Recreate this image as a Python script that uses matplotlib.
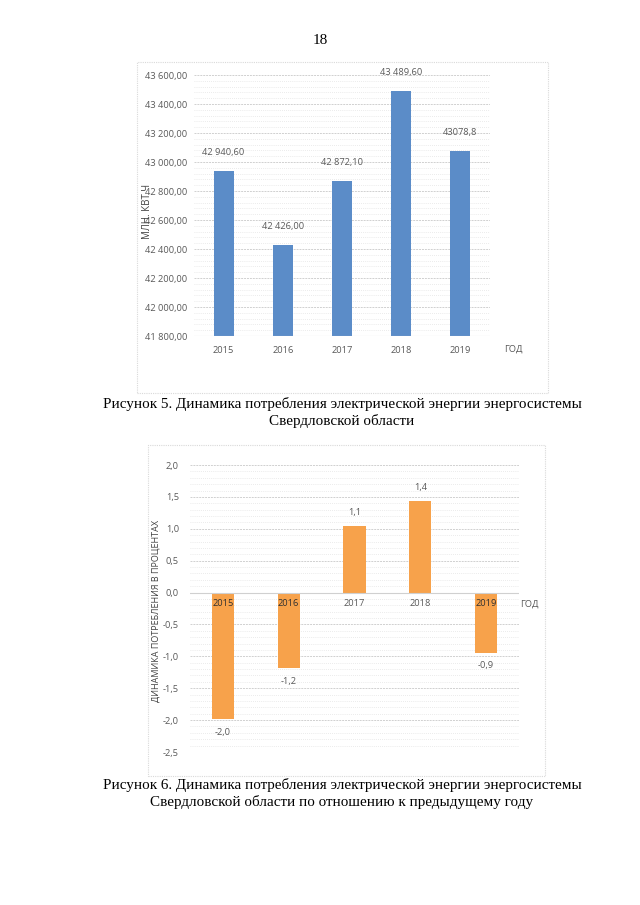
import matplotlib
matplotlib.use("Agg")
import matplotlib.pyplot as plt
from matplotlib.patches import Rectangle
from matplotlib.ticker import MultipleLocator, FuncFormatter

# ---- data ----
years = ["2015", "2016", "2017", "2018", "2019"]
consumption = [42940.6, 42426.0, 42872.1, 43489.6, 43078.8]
consumption_labels = ["42 940,60", "42 426,00", "42 872,10", "43 489,60", "43078,8"]
dynamics = [-1.99, -1.19, 1.05, 1.44, -0.94]
dynamics_labels = ["-2,0", "-1,2", "1,1", "1,4", "-0,9"]

page_text = "18"
caption5 = ["Рисунок 5. Динамика потребления электрической энергии энергосистемы",
            "Свердловской области"]
caption6 = ["Рисунок 6. Динамика потребления электрической энергии энергосистемы",
            "Свердловской области по отношению к предыдущему году"]

W, H = 640, 905
fig = plt.figure(figsize=(W / 100, H / 100), dpi=100)
fig.patch.set_facecolor("white")

SANS = ["Open Sans", "DejaVu Sans"]
SERIF = ["Liberation Serif", "DejaVu Serif"]
TXT = "#595959"
CAP = 10.9


def fx(px):
    return px / W


def fy(py):
    return 1 - py / H


def frame(x0, y0, x1, y1):
    r = Rectangle((fx(x0), fy(y1)), fx(x1 - x0), (y1 - y0) / H, transform=fig.transFigure,
                  fill=False, edgecolor="#d9d9d9", linewidth=0.8, linestyle=(0, (1, 1)))
    fig.add_artist(r)


def style_axes(ax):
    for s in ax.spines.values():
        s.set_visible(False)
    ax.tick_params(axis="both", which="both", length=0, labelsize=6.7, labelcolor=TXT)
    for lab in ax.get_yticklabels() + ax.get_xticklabels():
        lab.set_family(SANS)
    ax.grid(True, which="major", axis="y", color="#d0d0d0", linewidth=0.7, linestyle=(0, (2, 1)))
    ax.grid(True, which="minor", axis="y", color="#e4e4e4", linewidth=0.6, linestyle=(0, (1, 1.5)))
    ax.set_axisbelow(True)


# page number
fig.text(fx(320), fy(40), page_text, ha="center", va="center", fontsize=11, family=SERIF)

# ---- chart 1 ----
frame(137, 62, 548, 393)
ax1 = fig.add_axes([fx(194), fy(336), fx(490 - 194), (336 - 75) / H])
x = range(len(years))
ax1.bar(x, [v - 41800 for v in consumption], bottom=41800, width=0.34, color="#5b8cc8")
ax1.set_ylim(41800, 43600)
ax1.set_xlim(-0.5, 4.5)
ax1.yaxis.set_major_locator(MultipleLocator(200))
ax1.yaxis.set_minor_locator(MultipleLocator(40))
ax1.yaxis.set_major_formatter(FuncFormatter(
    lambda v, p: f"{v:,.2f}".replace(",", " ").replace(".", ",")))
ax1.set_xticks(list(x))
ax1.set_xticklabels(years)
ax1.tick_params(axis="x", pad=7)
ax1.tick_params(axis="y", pad=5)
style_axes(ax1)
ax1.axhline(41800, color="#d0d0d0", linewidth=0.8)
for i, (v, lab) in enumerate(zip(consumption, consumption_labels)):
    ax1.annotate(lab, (i, v), xytext=(0, 10), textcoords="offset points", ha="center",
                 va="bottom", fontsize=6.7, color=TXT, family=SANS)
fig.text(fx(513), fy(349), "ГОД", ha="center", va="center", fontsize=6.7, color=TXT, family=SANS)
fig.text(fx(147), fy(211), "МЛН. КВТ Ч", ha="center", va="center", rotation=90,
         fontsize=7, color="#404040", family=SANS)

fig.text(fx(342), fy(404), caption5[0], ha="center", va="center", fontsize=CAP, family=SERIF)
fig.text(fx(342), fy(421), caption5[1], ha="center", va="center", fontsize=CAP, family=SERIF)

# ---- chart 2 ----
frame(148, 445, 545, 776)
ax2 = fig.add_axes([fx(190), fy(752), fx(519 - 190), (752 - 465) / H])
ax2.bar(x, dynamics, width=0.34, color="#f7a24b")
ax2.set_ylim(-2.5, 2.0)
ax2.set_xlim(-0.5, 4.5)
ax2.yaxis.set_major_locator(MultipleLocator(0.5))
ax2.yaxis.set_minor_locator(MultipleLocator(0.1))
ax2.yaxis.set_major_formatter(FuncFormatter(lambda v, p: f"{v:.1f}".replace(".", ",")))
ax2.set_xticks([])
ax2.tick_params(axis="y", pad=8)
style_axes(ax2)
ax2.axhline(0, color="#d0d0d0", linewidth=0.8)
for i, (v, lab) in enumerate(zip(dynamics, dynamics_labels)):
    off = 6 if v >= 0 else -6
    ax2.annotate(lab, (i, v), xytext=(0, off), textcoords="offset points", ha="center",
                 va="bottom" if v >= 0 else "top", fontsize=6.7, color=TXT, family=SANS)
    ax2.annotate(years[i], (i, 0), xytext=(0, -8), textcoords="offset points", ha="center",
                 va="center", fontsize=6.7, color="#303030" if v < 0 else TXT, family=SANS)
fig.text(fx(529), fy(604), "ГОД", ha="center", va="center", fontsize=6.7, color=TXT, family=SANS)
fig.text(fx(156), fy(611), "ДИНАМИКА ПОТРЕБЛЕНИЯ В ПРОЦЕНТАХ", ha="center", va="center",
         rotation=90, fontsize=6.5, color="#404040", family=SANS)

fig.text(fx(342), fy(785), caption6[0], ha="center", va="center", fontsize=CAP, family=SERIF)
fig.text(fx(342), fy(802), caption6[1], ha="center", va="center", fontsize=CAP, family=SERIF)

fig.savefig("out.png", dpi=100)
